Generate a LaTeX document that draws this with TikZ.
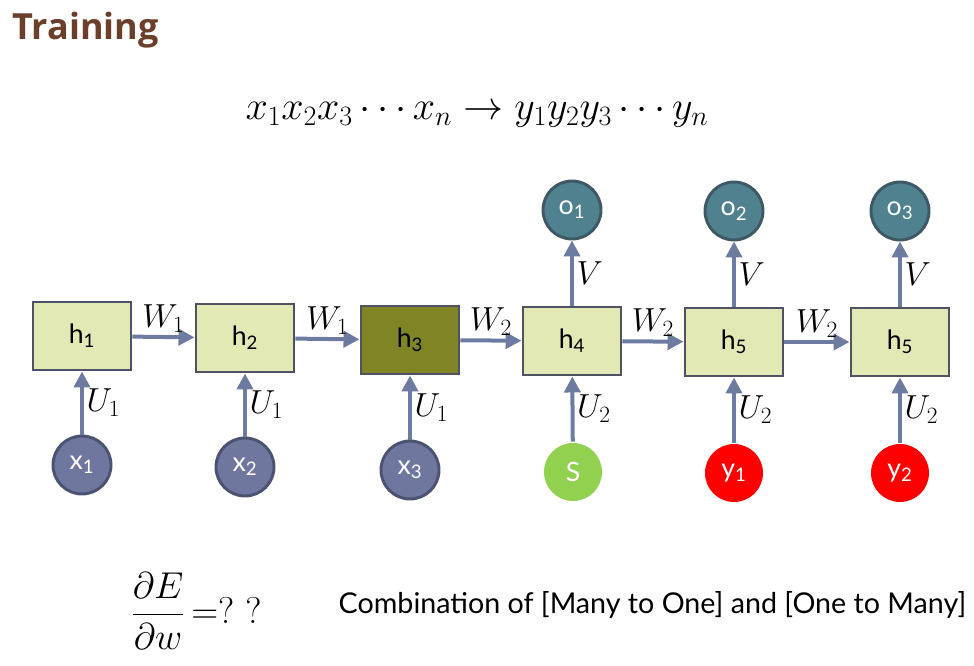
\RequirePackage{fix-cm}
\documentclass[tikz,border=0pt]{standalone}
\usepackage{fontspec}
\setmainfont{Lato}
\newfontfamily\titlefont{Open Sans}
\usetikzlibrary{arrows.meta}
\definecolor{boxfill}{HTML}{E3E9B4}
\definecolor{boxline}{HTML}{4F5264}
\definecolor{hidfill}{HTML}{7F8424}
\definecolor{xfill}{HTML}{6F779F}
\definecolor{xline}{HTML}{4C5272}
\definecolor{ofill}{HTML}{4F818E}
\definecolor{oline}{HTML}{3E5865}
\definecolor{sfill}{HTML}{92D050}
\definecolor{yfill}{HTML}{FF0000}
\definecolor{linkc}{HTML}{6E7BA1}
\definecolor{titlec}{HTML}{6B3F2A}
\begin{document}
\begin{tikzpicture}[x=0.75pt, y=-0.75pt,
  hbox/.style={draw=boxline, line width=2.2pt, fill=boxfill, minimum width=73.5pt, minimum height=51pt, font=\fontsize{20}{20}\selectfont},
  unit/.style={circle, line width=2.2pt, minimum size=43.5pt, inner sep=0pt, text=white, font=\fontsize{20}{20}\selectfont},
  link/.style={draw=linkc, line width=3pt, -{Triangle[length=12pt,width=12pt]}},
  wlab/.style={font=\fontsize{25}{25}\selectfont, inner sep=2pt}]
  \useasboundingbox (0,0) rectangle (974,666);
  % heading and sequence
  \node[anchor=base west, text=titlec, font=\titlefont\bfseries\fontsize{27}{27}\selectfont] (title) at (8,40) {Training};
  \node[font=\fontsize{30}{30}\selectfont] (seq) at (477,115) {$x_1x_2x_3\cdots x_n \rightarrow y_1y_2y_3\cdots y_n$};
  % hidden states
  \node[hbox] (h1) at (82,336) {h\textsubscript{1}};
  \node[hbox] (h2) at (245,338) {h\textsubscript{2}};
  \node[hbox, fill=hidfill] (h3) at (410,340) {h\textsubscript{3}};
  \node[hbox] (h4) at (572,341) {h\textsubscript{4}};
  \node[hbox] (h5) at (734,342) {h\textsubscript{5}};
  \node[hbox] (h6) at (900,342) {h\textsubscript{5}};
  % inputs
  \node[unit, draw=xline, fill=xfill] (x1) at (82,465) {x\textsubscript{1}};
  \node[unit, draw=xline, fill=xfill] (x2) at (245,467) {x\textsubscript{2}};
  \node[unit, draw=xline, fill=xfill] (x3) at (410,470) {x\textsubscript{3}};
  \node[unit, fill=sfill] (s) at (573,472) {S};
  \node[unit, fill=yfill] (y1) at (734,473) {y\textsubscript{1}};
  \node[unit, fill=yfill] (y2) at (900,473) {y\textsubscript{2}};
  % outputs
  \node[unit, draw=oline, fill=ofill] (o1) at (572,210) {o\textsubscript{1}};
  \node[unit, draw=oline, fill=ofill] (o2) at (734,211) {o\textsubscript{2}};
  \node[unit, draw=oline, fill=ofill] (o3) at (900,211) {o\textsubscript{3}};
  % recurrent links
  \draw[link] (h1) -- node[wlab, above] {$W_1$} (h2);
  \draw[link] (h2) -- node[wlab, above] {$W_1$} (h3);
  \draw[link] (h3) -- node[wlab, above] {$W_2$} (h4);
  \draw[link] (h4) -- node[wlab, above] {$W_2$} (h5);
  \draw[link] (h5) -- node[wlab, above] {$W_2$} (h6);
  % input links
  \draw[link] (x1) -- node[wlab, right] {$U_1$} (h1);
  \draw[link] (x2) -- node[wlab, right] {$U_1$} (h2);
  \draw[link] (x3) -- node[wlab, right] {$U_1$} (h3);
  \draw[link] (s) -- node[wlab, right] {$U_2$} (h4);
  \draw[link] (y1) -- node[wlab, right] {$U_2$} (h5);
  \draw[link] (y2) -- node[wlab, right] {$U_2$} (h6);
  % output links
  \draw[link] (h4) -- node[wlab, right] {$V$} (o1);
  \draw[link] (h5) -- node[wlab, right] {$V$} (o2);
  \draw[link] (h6) -- node[wlab, right] {$V$} (o3);
  % bottom line
  \node[anchor=west, inner sep=0pt, font=\fontsize{28}{28}\selectfont] (grad) at (131,611) {$\displaystyle\frac{\partial E}{\partial w}\,{=}?\hspace{0.3em}?$};
  \node[anchor=west, font=\fontsize{21.5}{21.5}\selectfont] (combo) at (334,605) {Combination of [Many to One] and [One to Many]};
\end{tikzpicture}
\end{document}
